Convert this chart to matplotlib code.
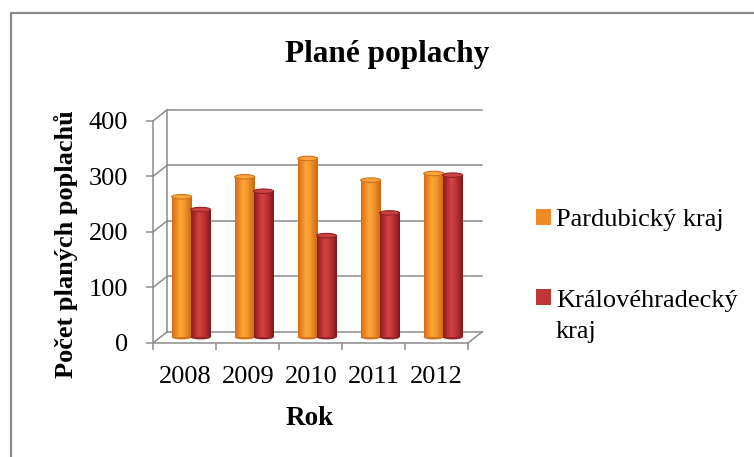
import numpy as np
import matplotlib
matplotlib.use('Agg')
import matplotlib.pyplot as plt
from matplotlib.patches import Ellipse, Rectangle
from matplotlib.colors import LinearSegmentedColormap

##### data #####
years = ['2008', '2009', '2010', '2011', '2012']
pardubicky = [253, 289, 322, 283, 295]
kralovehradecky = [230, 263, 183, 224, 292]
series_names = ['Pardubický kraj', 'Královéhradecký']
y_ticks = [0, 100, 200, 300, 400]

plt.rcParams['font.family'] = ['Liberation Serif', 'DejaVu Serif']

grey = '#8c8c8c'
dx, dy = 0.222, 19.8   # depth of the 3d box (data units)
bw = 0.317             # cylinder width
eh = 8                 # height of cylinder caps (data units)

orange_cmap = LinearSegmentedColormap.from_list(
    'o', ['#d46c18', '#ee8822', '#fba53c', '#f59a2c', '#e07f20', '#c96818'])
red_cmap = LinearSegmentedColormap.from_list(
    'r', ['#8a1c1e', '#b42c2f', '#d24442', '#c53739', '#a8282b', '#7c191b'])
styles = [
    dict(cmap=orange_cmap, mid='#f08c26', top='#f9a43c', edge='#d0721c'),
    dict(cmap=red_cmap, mid='#c03537', top='#cc4242', edge='#922224'),
]

fig = plt.figure(figsize=(7.54, 4.57), dpi=100)
ax = fig.add_axes([0.2033, 0.2501, 0.4178, 0.4858])
ax.patch.set_visible(False)
for s in ['top', 'right']:
    ax.spines[s].set_visible(False)
for s in ['left', 'bottom']:
    ax.spines[s].set_color(grey)
    ax.spines[s].set_linewidth(1.1)

n = len(years)
# back wall + gridlines
for v in y_ticks:
    ax.plot([dx, n + dx], [v + dy, v + dy], color=grey, lw=1.1, clip_on=False, zorder=1)
    ax.plot([0, dx], [v, v + dy], color=grey, lw=1.1, clip_on=False, zorder=1)
ax.plot([dx, dx], [dy, y_ticks[-1] + dy], color=grey, lw=1.1, clip_on=False, zorder=1)
# floor right edge
ax.plot([n, n + dx], [0, dy], color=grey, lw=1.1, clip_on=False, zorder=1)

x = np.arange(n)
centers = [x + 0.5 + dx / 2 - 0.16, x + 0.5 + dx / 2 + 0.14]
grad = np.linspace(0, 1, 64)[None, :]
handles = []
for si, (vals, st) in enumerate(zip([pardubicky, kralovehradecky], styles)):
    bars = ax.bar(centers[si], vals, width=bw, bottom=dy / 2, color=st['mid'],
                  linewidth=0, zorder=3 + si, clip_on=False)
    for b in bars:
        x0, w = b.get_x(), b.get_width()
        y0, h = b.get_y(), b.get_height()
        z = 3 + si
        ax.add_patch(Ellipse((x0 + w / 2, y0), w, eh, facecolor=st['edge'],
                             linewidth=0, zorder=z - 0.1, clip_on=False))
        im = ax.imshow(grad, extent=(x0, x0 + w, y0, y0 + h), aspect='auto',
                       cmap=st['cmap'], zorder=z + 0.05, interpolation='bilinear')
        im.set_clip_path(b)
        ax.add_patch(Ellipse((x0 + w / 2, y0 + h), w, eh, facecolor=st['top'],
                             edgecolor=st['edge'], linewidth=0.8, zorder=z + 0.1,
                             clip_on=False))
    handles.append(Rectangle((0, 0), 1, 1, facecolor=st['mid']))

ax.set_xlim(0, n)
ax.set_ylim(0, 400)
ax.set_yticks(y_ticks)
ax.tick_params(axis='y', length=5, width=1.1, color=grey, pad=13, labelsize=19)
ax.set_xticks(range(n + 1))
ax.set_xticklabels([''] * (n + 1))
ax.set_xticks(x + 0.5, minor=True)
ax.set_xticklabels(years, minor=True)
ax.tick_params(axis='x', which='major', length=5, width=1.1, color=grey)
ax.tick_params(axis='x', which='minor', length=0, pad=17, labelsize=19)

fig.text(387 / 754, 1 - 61.7 / 457, 'Plané poplachy', ha='center', va='baseline',
         fontsize=22.5, fontweight='bold')
fig.text(66 / 754, 1 - 244 / 457, 'Počet planých poplachů', rotation=90,
         ha='center', va='center', fontsize=19, fontweight='bold')
fig.text(310 / 754, 1 - 425 / 457, 'Rok', ha='center', va='baseline',
         fontsize=19.5, fontweight='bold')

fig.legend(handles, series_names, loc='upper left',
           bbox_to_anchor=(536 / 754, 1 - 209 / 457), frameon=False, fontsize=19,
           handlelength=0.55, handleheight=0.55, handletextpad=0.2,
           labelspacing=2.2, borderaxespad=0, borderpad=0)
# second line of the long legend label
fig.text(556 / 754, 1 - 338 / 457, 'kraj', ha='left', va='baseline', fontsize=19)

# chart frame (cropped on right and bottom)
fig.add_artist(Rectangle((10.5 / 754, -0.2), 1.2, 1.2 - 12.5 / 457, transform=fig.transFigure,
                         fill=False, edgecolor='#8a8a8a', linewidth=1.6))

fig.savefig('out.png', dpi=100)
